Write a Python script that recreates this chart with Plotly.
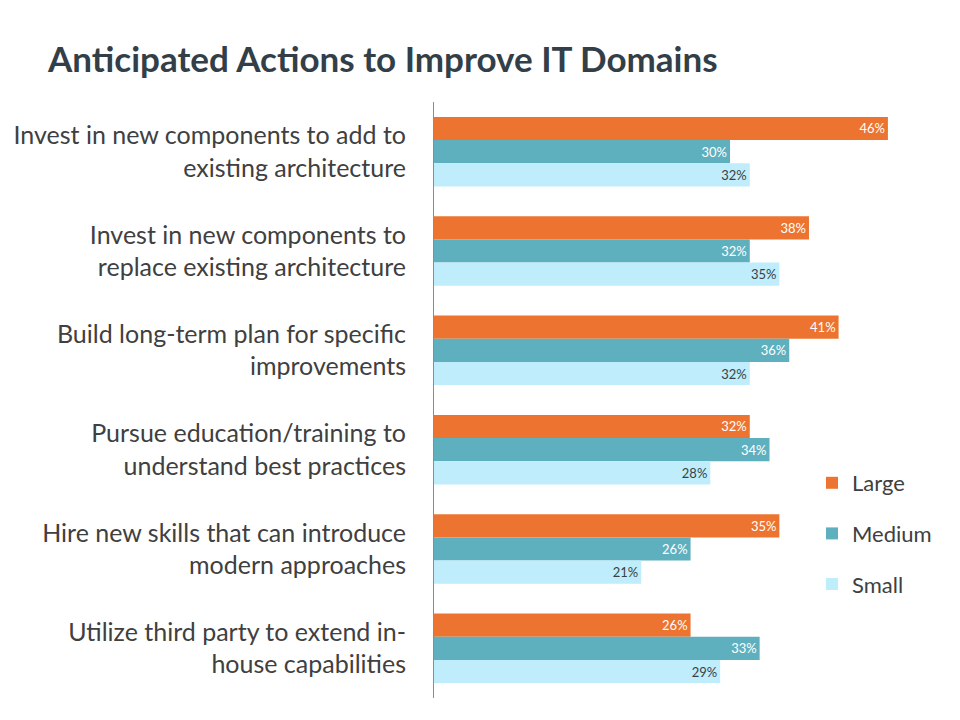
import plotly.graph_objects as go

categories = [
    "Invest in new components to add to<br>existing architecture",
    "Invest in new components to<br>replace existing architecture",
    "Build long-term plan for specific<br>improvements",
    "Pursue education/training to<br>understand best practices",
    "Hire new skills that can introduce<br>modern approaches",
    "Utilize third party to extend in-<br>house capabilities",
]
large = [46, 38, 41, 32, 35, 26]
medium = [30, 32, 36, 34, 26, 33]
small = [32, 35, 32, 28, 21, 29]

series = [
    ("Large", large, "#EC7430", "#FFFFFF"),
    ("Medium", medium, "#5EB0BF", "#FFFFFF"),
    ("Small", small, "#BFEDFB", "#3A3F44"),
]

FONT = "Lato, 'Open Sans', sans-serif"

fig = go.Figure()
for i, (name, vals, color, tcolor) in enumerate(series):
    fig.add_trace(go.Bar(
        y=categories, x=vals, name=name, orientation="h",
        marker=dict(color=color, line=dict(width=0)),
        text=[f"{v}%" for v in vals],
        textposition="inside", insidetextanchor="end",
        textfont=dict(color=tcolor, size=13, family=FONT),
        constraintext="none",
        legendgroup=name,
        hoverinfo="skip",
    ))

fig.update_layout(
    width=960, height=720,
    barmode="group", bargap=0.3, bargroupgap=0,
    plot_bgcolor="white", paper_bgcolor="white",
    margin=dict(l=434, r=3, t=102, b=22),
    font=dict(family=FONT, color="#404040"),
    title=dict(text="<b>Anticipated Actions to Improve IT Domains</b>",
               x=48/960, xanchor="left", y=1-60/720, yanchor="middle",
               font=dict(size=35, color="#333F48", family=FONT)),
    xaxis=dict(range=[0, 53], visible=False, fixedrange=True),
    yaxis=dict(autorange="reversed", showline=True, linecolor="#8C8C8C", linewidth=1,
               ticks="", showgrid=False, tickfont=dict(size=25, color="#404040"),
               ticklabelstandoff=22),
    legend=dict(x=(812-434)/523, xanchor="left", y=1-(462-102)/596, yanchor="top",
                font=dict(size=22, color="#404040"), tracegroupgap=19,
                bgcolor="rgba(0,0,0,0)"),
    showlegend=True,
)

fig.write_html("out.html")
